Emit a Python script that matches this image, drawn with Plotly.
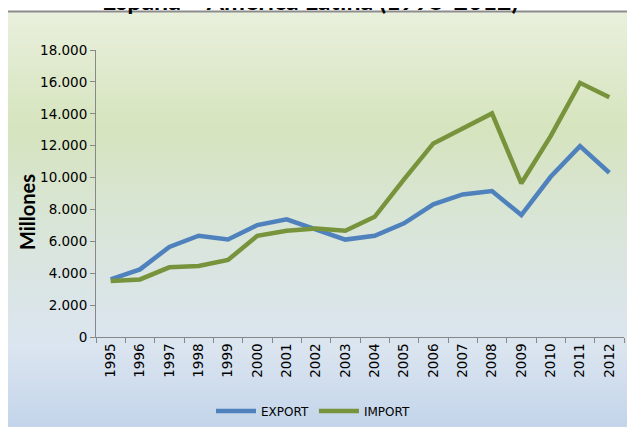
import plotly.graph_objects as go

years = [str(y) for y in range(1995, 2013)]
export_vals = [3620, 4240, 5650, 6350, 6120, 7020, 7380, 6770, 6110,
               6350, 7130, 8320, 8940, 9150, 7650, 10050, 11970, 10300]
import_vals = [3520, 3610, 4370, 4450, 4830, 6350, 6660, 6810, 6660,
               7540, 9890, 12140, 13080, 14020, 9640, 12600, 15940, 15030]

# the page puts the figure 8px in from the top-left corner
OFF = 8
W, H = 635, 427
L, R, T, B = 88, 19, 42, 98


def px_x(p):
    # page pixel -> paper x
    return (p - OFF - L) / (W - L - R)


def px_y(p):
    # page pixel -> paper y
    return (H - B - (p - OFF)) / (H - T - B)


def hex2rgb(h):
    return [int(h[i:i + 2], 16) for i in (1, 3, 5)]


# background gradient (Excel-like), built from thin stripes
top = 11
stops = [(top, "#e9f0dd"), (125, "#d6e4be"), (255, "#dae5df"),
         (345, "#dbe5f0"), (427, "#c3d4ea")]
shapes = []
y = top
while y < 440:
    for (a, ca), (b, cb) in zip(stops[:-1], stops[1:]):
        if a <= y <= b:
            t = (y - a) / (b - a)
            c = [round(u + (v - u) * t) for u, v in zip(hex2rgb(ca), hex2rgb(cb))]
            break
    else:
        c = hex2rgb(stops[-1][1])
    shapes.append(dict(type="rect", xref="paper", yref="paper",
                       x0=px_x(6), x1=px_x(660), y0=px_y(y + 3), y1=px_y(y),
                       fillcolor="rgb(%d,%d,%d)" % tuple(c), line_width=0,
                       layer="below"))
    y += 3
shapes.append(dict(type="rect", xref="paper", yref="paper",
                   x0=px_x(6.5), x1=px_x(660), y0=px_y(460), y1=px_y(top + 0.5),
                   line=dict(color="#8c8c8c", width=2), layer="below"))

fig = go.Figure()
fig.add_trace(go.Scatter(x=years, y=export_vals, name="EXPORT", mode="lines",
                         line=dict(color="#4f81bd", width=4.5)))
fig.add_trace(go.Scatter(x=years, y=import_vals, name="IMPORT", mode="lines",
                         line=dict(color="#77933c", width=4.5)))

fig.update_layout(
    width=W, height=H,
    margin=dict(l=L, r=R, t=T, b=B, autoexpand=False),
    paper_bgcolor="white", plot_bgcolor="rgba(0,0,0,0)",
    separators=",.",
    font=dict(family="DejaVu Sans", size=12, color="#000000"),
    shapes=shapes,
    showlegend=True,
    legend=dict(orientation="h", x=px_x(313), xanchor="center",
                y=px_y(411), yanchor="middle", bgcolor="rgba(0,0,0,0)",
                font=dict(size=12), itemwidth=40),
    annotations=[
        dict(text="<b>España – América Latina (1995-2012)</b>",
             xref="paper", yref="paper", x=px_x(310), y=px_y(0),
             xanchor="center", yanchor="middle", showarrow=False,
             font=dict(family="Lato", size=25, color="#000000")),
        dict(text="<b>Millones</b>", textangle=-90,
             xref="paper", yref="paper", x=px_x(27), y=px_y(212),
             xanchor="center", yanchor="middle", showarrow=False,
             font=dict(family="Lato", size=20, color="#000000")),
    ],
)
fig.update_xaxes(type="category", range=[-0.5, 17.5], tickson="boundaries",
                 ticks="outside", automargin=False,
                 ticklen=5, tickcolor="#888888", showline=True,
                 linecolor="#888888", linewidth=1, showgrid=False,
                 tickangle=-90, tickfont=dict(size=13.5))
fig.update_yaxes(range=[0, 18000], dtick=2000, tickformat=",d",
                 ticks="outside", ticklen=5, tickcolor="#888888",
                 automargin=False, showline=True, linecolor="#888888",
                 linewidth=1, showgrid=False, zeroline=False,
                 tickfont=dict(size=13.5))

fig.write_html("out.html")
